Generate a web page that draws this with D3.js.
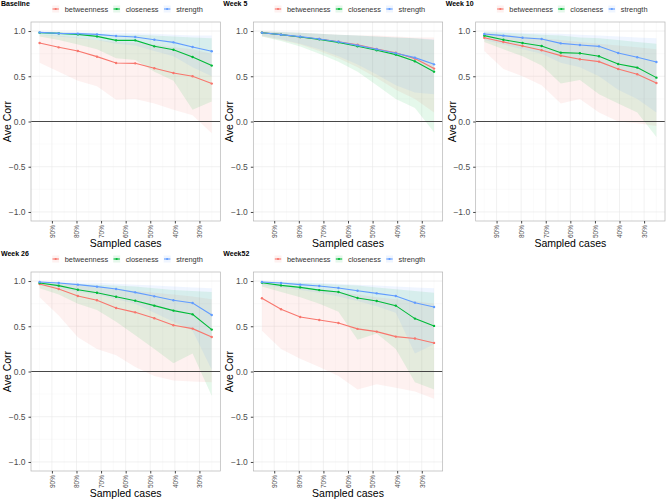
<!DOCTYPE html>
<html lang="en">
<head>
<meta charset="UTF-8">
<title>Case-drop stability</title>
<script src="https://cdn.jsdelivr.net/npm/d3@7/dist/d3.min.js"></script>
<style>
    body { margin: 0; background: #fff; }
    svg text { font-family: "Liberation Sans", Arial, sans-serif; }
    .grid-major { stroke: #e8e8e8; stroke-width: 0.6; }
    .grid-minor { stroke: #f4f4f4; stroke-width: 0.4; }
</style>
</head>
<body>
<div id="chart"></div>
<script>
    /* global d3 */

    // proportion of cases kept
    var sampled = [0.95, 0.8722, 0.7944, 0.7167, 0.6389, 0.5611, 0.4833, 0.4056, 0.3278, 0.25];
    var xTicks = [0.9, 0.8, 0.7, 0.6, 0.5, 0.4, 0.3];
    var yTicks = [-1, -0.5, 0, 0.5, 1];
    var seriesNames = ["betweenness", "closeness", "strength"];
    var seriesColors = ["#F8766D", "#00BA38", "#619CFF"];
    var panelTitles = ["Baseline", "Week 5", "Week 10", "Week 26", "Week52"];

    // rows: betweenness, closeness, strength
    var baselineMean = [
        [0.868, 0.820, 0.779, 0.717, 0.647, 0.643, 0.588, 0.537, 0.500, 0.419],
        [0.982, 0.974, 0.963, 0.941, 0.897, 0.897, 0.831, 0.794, 0.713, 0.618],
        [0.985, 0.974, 0.971, 0.963, 0.945, 0.934, 0.904, 0.875, 0.824, 0.776]];
    var baselineLo = [
        [0.65, 0.55, 0.45, 0.39, 0.24, 0.25, 0.20, 0.13, 0.07, -0.13],
        [0.94, 0.90, 0.85, 0.80, 0.70, 0.68, 0.55, 0.45, 0.13, 0.22],
        [0.96, 0.94, 0.92, 0.90, 0.86, 0.84, 0.78, 0.72, 0.60, 0.50]];
    var baselineHi = [
        [0.96, 0.95, 0.93, 0.90, 0.88, 0.87, 0.85, 0.82, 0.80, 0.75],
        [0.99, 0.99, 0.98, 0.97, 0.96, 0.96, 0.95, 0.94, 0.93, 0.92],
        [0.995, 0.99, 0.99, 0.985, 0.98, 0.975, 0.97, 0.96, 0.95, 0.95]];

    var week5Mean = [
        [0.982, 0.960, 0.934, 0.912, 0.882, 0.849, 0.801, 0.761, 0.695, 0.585],
        [0.982, 0.960, 0.934, 0.908, 0.875, 0.831, 0.787, 0.739, 0.665, 0.551],
        [0.982, 0.960, 0.938, 0.912, 0.882, 0.842, 0.798, 0.754, 0.706, 0.632]];
    var week5Lo = [
        [0.94, 0.90, 0.85, 0.78, 0.70, 0.60, 0.48, 0.35, 0.25, 0.10],
        [0.94, 0.89, 0.83, 0.75, 0.66, 0.55, 0.40, 0.25, 0.15, -0.12],
        [0.95, 0.91, 0.86, 0.80, 0.72, 0.63, 0.52, 0.40, 0.32, 0.30]];
    var week5Hi = [
        [0.995, 0.99, 0.98, 0.97, 0.96, 0.95, 0.95, 0.94, 0.93, 0.93],
        [0.995, 0.99, 0.98, 0.97, 0.96, 0.95, 0.94, 0.93, 0.92, 0.90],
        [0.995, 0.99, 0.98, 0.97, 0.96, 0.95, 0.94, 0.93, 0.92, 0.91]];

    var week10Mean = [
        [0.926, 0.879, 0.835, 0.787, 0.728, 0.688, 0.662, 0.581, 0.522, 0.426],
        [0.949, 0.904, 0.868, 0.835, 0.761, 0.754, 0.721, 0.636, 0.596, 0.485],
        [0.967, 0.949, 0.926, 0.912, 0.864, 0.846, 0.831, 0.757, 0.710, 0.658]];
    var week10Lo = [
        [0.78, 0.58, 0.50, 0.40, 0.20, 0.25, 0.10, 0.00, -0.02, -0.05],
        [0.88, 0.80, 0.72, 0.62, 0.42, 0.46, 0.30, 0.20, 0.10, -0.17],
        [0.90, 0.85, 0.80, 0.75, 0.65, 0.60, 0.50, 0.35, 0.25, 0.10]];
    var week10Hi = [
        [0.98, 0.96, 0.94, 0.92, 0.90, 0.88, 0.86, 0.84, 0.82, 0.80],
        [0.99, 0.98, 0.97, 0.96, 0.95, 0.93, 0.92, 0.90, 0.88, 0.86],
        [0.995, 0.99, 0.98, 0.975, 0.97, 0.96, 0.95, 0.94, 0.93, 0.92]];

    var week26Mean = [
        [0.967, 0.912, 0.835, 0.787, 0.702, 0.654, 0.588, 0.511, 0.474, 0.382],
        [0.978, 0.949, 0.904, 0.871, 0.827, 0.783, 0.728, 0.673, 0.632, 0.463],
        [0.989, 0.978, 0.960, 0.938, 0.912, 0.875, 0.831, 0.787, 0.757, 0.625]];
    var week26Lo = [
        [0.82, 0.62, 0.38, 0.25, 0.18, 0.05, -0.05, -0.10, -0.11, -0.12],
        [0.92, 0.85, 0.75, 0.68, 0.55, 0.40, 0.25, 0.09, 0.20, -0.27],
        [0.95, 0.92, 0.88, 0.85, 0.80, 0.75, 0.65, 0.55, 0.45, 0.02]];
    var week26Hi = [
        [0.99, 0.97, 0.95, 0.93, 0.91, 0.89, 0.87, 0.85, 0.83, 0.80],
        [0.995, 0.98, 0.97, 0.96, 0.95, 0.94, 0.92, 0.90, 0.89, 0.88],
        [0.998, 0.99, 0.985, 0.98, 0.97, 0.96, 0.95, 0.94, 0.93, 0.92]];

    var week52Mean = [
        [0.809, 0.688, 0.603, 0.570, 0.537, 0.471, 0.441, 0.386, 0.364, 0.316],
        [0.982, 0.952, 0.930, 0.900, 0.879, 0.813, 0.779, 0.728, 0.585, 0.504],
        [0.989, 0.978, 0.960, 0.945, 0.923, 0.893, 0.864, 0.835, 0.761, 0.713]];
    var week52Lo = [
        [0.45, 0.25, 0.14, 0.05, -0.05, -0.20, -0.14, -0.18, -0.22, -0.30],
        [0.94, 0.88, 0.82, 0.75, 0.66, 0.35, 0.42, 0.25, -0.12, -0.20],
        [0.96, 0.93, 0.90, 0.87, 0.83, 0.78, 0.72, 0.65, 0.20, 0.30]];
    var week52Hi = [
        [0.97, 0.95, 0.92, 0.90, 0.88, 0.85, 0.82, 0.80, 0.78, 0.75],
        [0.995, 0.99, 0.98, 0.97, 0.96, 0.95, 0.93, 0.91, 0.89, 0.87],
        [0.998, 0.99, 0.985, 0.98, 0.97, 0.96, 0.95, 0.94, 0.93, 0.92]];

    var panelMeans = [baselineMean, week5Mean, week10Mean, week26Mean, week52Mean];
    var panelLos = [baselineLo, week5Lo, week10Lo, week26Lo, week52Lo];
    var panelHis = [baselineHi, week5Hi, week10Hi, week26Hi, week52Hi];

    var width = 667;
    var height = 500;
    var cellW = width / 3;
    var cellH = 250;

    var svg = d3.select("#chart").append("svg")
        .attr("width", width)
        .attr("height", height);

    function drawPanel(i) {
        var col = i % 3, row = Math.floor(i / 3);
        var g = svg.append("g")
            .attr("transform", "translate(" + (col * cellW) + "," + (row * cellH) + ")");

        var left = 31, right = cellW - 2, top = 22, bottom = 221;

        var x = d3.scaleLinear().domain([0.985, 0.215]).range([left, right]);
        var y = d3.scaleLinear().domain([-1.1, 1.1]).range([bottom, top]);

        // title
        g.append("text")
            .attr("x", 1).attr("y", 6)
            .attr("font-size", 7).attr("font-weight", "bold")
            .text(panelTitles[i]);

        // gridlines
        var xMinor = xTicks.map(function (d) { return d + 0.05; }).concat([0.25]);
        var yMinor = [-0.75, -0.25, 0.25, 0.75];
        g.selectAll(".xminor").data(xMinor).enter().append("line")
            .attr("class", "grid-minor")
            .attr("x1", function (d) { return x(d); }).attr("x2", function (d) { return x(d); })
            .attr("y1", top).attr("y2", bottom);
        g.selectAll(".yminor").data(yMinor).enter().append("line")
            .attr("class", "grid-minor")
            .attr("y1", function (d) { return y(d); }).attr("y2", function (d) { return y(d); })
            .attr("x1", left).attr("x2", right);
        g.selectAll(".xmajor").data(xTicks).enter().append("line")
            .attr("class", "grid-major")
            .attr("x1", function (d) { return x(d); }).attr("x2", function (d) { return x(d); })
            .attr("y1", top).attr("y2", bottom);
        g.selectAll(".ymajor").data(yTicks).enter().append("line")
            .attr("class", "grid-major")
            .attr("y1", function (d) { return y(d); }).attr("y2", function (d) { return y(d); })
            .attr("x1", left).attr("x2", right);

        var means = panelMeans[i], los = panelLos[i], his = panelHis[i];

        var area = d3.area()
            .x(function (d) { return x(d.x); })
            .y0(function (d) { return y(d.lo); })
            .y1(function (d) { return y(d.hi); });
        var line = d3.line()
            .x(function (d) { return x(d.x); })
            .y(function (d) { return y(d.m); });

        var clipId = "clip" + i;
        g.append("clipPath").attr("id", clipId).append("rect")
            .attr("x", left).attr("y", top)
            .attr("width", right - left).attr("height", bottom - top);

        var plot = g.append("g").attr("clip-path", "url(#" + clipId + ")");

        seriesNames.forEach(function (name, s) {
            var pts = sampled.map(function (v, k) {
                return { x: v, m: means[s][k], lo: los[s][k], hi: his[s][k] };
            });
            plot.append("path")
                .datum(pts)
                .attr("d", area)
                .attr("fill", seriesColors[s])
                .attr("fill-opacity", 0.1);
        });

        // zero line
        plot.append("line")
            .attr("x1", left).attr("x2", right)
            .attr("y1", y(0)).attr("y2", y(0))
            .attr("stroke", "#333").attr("stroke-width", 0.9);

        seriesNames.forEach(function (name, s) {
            var pts = sampled.map(function (v, k) {
                return { x: v, m: means[s][k] };
            });
            plot.append("path")
                .datum(pts)
                .attr("d", line)
                .attr("fill", "none")
                .attr("stroke", seriesColors[s])
                .attr("stroke-width", 1.1);
            plot.selectAll(".pt" + s).data(pts).enter().append("circle")
                .attr("cx", function (d) { return x(d.x); })
                .attr("cy", function (d) { return y(d.m); })
                .attr("r", 1.2)
                .attr("fill", seriesColors[s]);
        });

        // border
        g.append("rect")
            .attr("x", left).attr("y", top)
            .attr("width", right - left).attr("height", bottom - top)
            .attr("fill", "none").attr("stroke", "#b5b5b5").attr("stroke-width", 0.7);

        // axes
        var yAxis = d3.axisLeft(y).tickValues(yTicks).tickSize(2.5)
            .tickFormat(d3.format(".1f"));
        var ya = g.append("g").attr("transform", "translate(" + left + ",0)").call(yAxis);
        ya.select(".domain").remove();
        ya.selectAll("line").attr("stroke", "#444");
        ya.selectAll("text").attr("font-size", 8.5).attr("fill", "#4d4d4d")
            .text(function (d) { return d3.format(".1f")(d).replace("-", "\u2212"); });

        var xAxis = d3.axisBottom(x).tickValues(xTicks).tickSize(2.5)
            .tickFormat(d3.format(".0%"));
        var xa = g.append("g").attr("transform", "translate(0," + bottom + ")").call(xAxis);
        xa.select(".domain").remove();
        xa.selectAll("line").attr("stroke", "#444");
        xa.selectAll("text")
            .attr("font-size", 6.5).attr("fill", "#4d4d4d")
            .attr("transform", "rotate(-90)")
            .attr("x", -4).attr("y", 0).attr("dy", "0.35em")
            .attr("text-anchor", "end");

        // axis titles
        g.append("text")
            .attr("x", (left + right) / 2).attr("y", 247)
            .attr("text-anchor", "middle").attr("font-size", 10.5)
            .text("Sampled cases");
        g.append("text")
            .attr("transform", "translate(11," + ((top + bottom) / 2) + ") rotate(-90)")
            .attr("text-anchor", "middle").attr("font-size", 10.5)
            .text("Ave Corr");

        // legend
        var lg = g.append("g").attr("transform", "translate(" + ((left + right) / 2) + ",9)");
        var offsets = [-70, -9, 41.5];
        seriesNames.forEach(function (name, s) {
            var item = lg.append("g").attr("transform", "translate(" + offsets[s] + ",0)");
            item.append("rect")
                .attr("x", -3.5).attr("y", -3.5).attr("width", 7).attr("height", 7)
                .attr("fill", seriesColors[s]).attr("fill-opacity", 0.1);
            item.append("line")
                .attr("x1", -3.2).attr("x2", 3.2).attr("y1", 0).attr("y2", 0)
                .attr("stroke", seriesColors[s]).attr("stroke-width", 1.1);
            item.append("circle").attr("cx", 0).attr("cy", 0).attr("r", 1.1)
                .attr("fill", seriesColors[s]);
            item.append("text")
                .attr("x", 9).attr("y", 0).attr("dy", "0.35em")
                .attr("font-size", 7.4).attr("fill", "#333")
                .text(name);
        });
    }

    for (var i = 0; i < panelTitles.length; i++) {
        drawPanel(i);
    }
</script>
</body>
</html>
